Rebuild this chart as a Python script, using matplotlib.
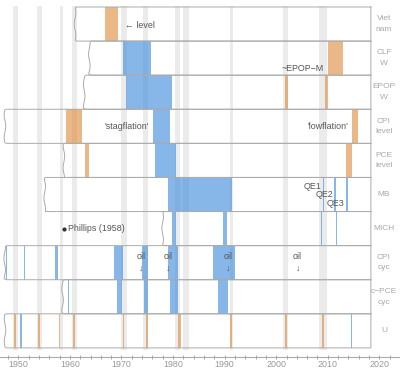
import numpy as np
import matplotlib.pyplot as plt
from matplotlib.ticker import MultipleLocator

plt.rcParams['font.family'] = ['Liberation Sans', 'DejaVu Sans']

# Row labels and where each series starts
rows = ['Viet\nnam', 'CLF\nW', 'EPOP\nW', 'CPI\nlevel', 'PCE\nlevel',
        'MB', 'MICH', 'CPI\ncyc', 'c\u2212PCE\ncyc', 'U']
rowStart = [1961.0, 1963.9, 1962.9, 1947.4, 1958.7, 1955.0, 1978.0, 1947.5, 1958.7, 1947.4]
rowEnd = 2018.35

# Recession bands
recessions = [(1949.0, 1950.0), (1953.6, 1954.5), (1958.0, 1958.7), (1960.5, 1961.3),
              (1970.0, 1971.0), (1974.1, 1975.2), (1980.4, 1981.3), (1982.0, 1983.1),
              (1991.0, 1991.7), (2001.35, 2002.3), (2008.3, 2009.8)]

# Orange / blue episodes per row (start year, end year)
orangeSpans = [
    [(1966.9, 1969.3)],
    [(2010.0, 2013.0)],
    [(2001.7, 2002.3), (2009.4, 2010.0)],
    [(1959.2, 1962.3), (2014.6, 2015.8)],
    [(1962.9, 1963.7), (2013.45, 2014.7)],
    [],
    [],
    [],
    [],
    [(1949.25, 1949.55), (1953.85, 1954.15), (1957.8, 1958.1), (1960.65, 1960.95),
     (1970.2, 1970.5), (1974.85, 1975.15), (1980.9, 1981.5), (1991.0, 1991.5),
     (2001.8, 2002.1), (2008.9, 2009.2)],
]
blueSpans = [
    [],
    [(1970.35, 1975.65)],
    [(1970.8, 1979.75)],
    [(1976.1, 1979.5)],
    [(1976.5, 1980.55)],
    [(1979.05, 1991.45), (2009.0, 2009.2), (2011.3, 2011.5), (2013.45, 2013.95)],
    [(1979.75, 1980.55), (1989.6, 1990.4), (2008.7, 2008.95), (2011.5, 2011.7)],
    [(1947.6, 1947.85), (1951.05, 1951.35), (1957.2, 1957.65), (1968.6, 1970.35),
     (1973.9, 1975.2), (1978.95, 1981.0), (1987.7, 1992.0)],
    [(1959.6, 1959.85), (1969.05, 1970.15), (1974.4, 1975.2), (1979.4, 1981.0),
     (1988.75, 1990.6)],
    [(1950.4, 1950.7), (2014.5, 2014.75)],
]

oilYears = [1973.9, 1979.0, 1990.6, 2004.15]
qeLabels = ['QE1', 'QE2', 'QE3']
qeYears = [2008.8, 2011.1, 2013.3]

ORANGE = (0.87, 0.55, 0.24)
BLUE = (0.24, 0.55, 0.86)
BORDER = '#ababab'
ANNOT = '#555555'
LABEL = '#a8a8a8'
FS = 6.4

fig = plt.figure(figsize=(4, 3.82), dpi=100)
ax = fig.add_axes([0, 0, 1, 1])
ax.set_xlim(1946.45, 2024)
ax.set_ylim(11.0, -0.205)

# recession shading
for s, e in recessions:
    ax.broken_barh([(s, e - s)], (-0.03, 10.08), facecolor='#ebebeb', edgecolor='none', zorder=0)

for i, name in enumerate(rows):
    ax.broken_barh([(s, e - s) for s, e in orangeSpans[i]], (i, 1),
                   facecolor=ORANGE, alpha=0.62, edgecolor='none', zorder=2)
    ax.broken_barh([(s, e - s) for s, e in blueSpans[i]], (i, 1),
                   facecolor=BLUE, alpha=0.62, edgecolor='none', zorder=2)
    # box with a slightly wavy left edge
    t = np.linspace(0, 1, 40)
    wx = rowStart[i] + 0.15 * np.sin(2 * np.pi * (1.5 * t + 0.17 * i)) - 0.15 * np.sin(2 * np.pi * 0.17 * i)
    wx[0] = rowStart[i] + 0.25
    wx[-1] = rowStart[i] + 0.25
    xs = np.concatenate([[rowEnd], wx, [rowEnd, rowEnd]])
    ys = np.concatenate([[i], i + t, [i + 1, i]])
    ax.plot(xs, ys, color=BORDER, lw=0.7, zorder=3)
    ax.text(2020.9, i + 0.5, name, ha='center', va='center', fontsize=6,
            color=LABEL, linespacing=1.7)

# annotations
ax.text(1970.6, 0.53, '\u2190 level', fontsize=FS, color=ANNOT, va='center', ha='left')
ax.text(2009.3, 1.79, '~EPOP\u2212M', fontsize=FS, color=ANNOT, va='center', ha='right')
ax.text(1971.1, 3.5, "'stagflation'", fontsize=FS, color=ANNOT, va='center', ha='center')
ax.text(2013.9, 3.5, "'lowflation'", fontsize=FS, color=ANNOT, va='center', ha='right')
for k, (lab, yr) in enumerate(zip(qeLabels, qeYears)):
    ax.text(yr, 5.26 + 0.25 * k, lab, fontsize=FS, color=ANNOT, va='center', ha='right')
ax.plot([1958.9], [6.51], 'o', ms=2, color='#333333', zorder=4)
ax.text(1959.7, 6.51, 'Phillips (1958)', fontsize=FS, color=ANNOT, va='center', ha='left')
for yr in oilYears:
    ax.text(yr, 7.5, 'oil\n\u2193', fontsize=FS, color=ANNOT, va='center', ha='center',
            linespacing=1.4)

# x axis
for side in ['top', 'left', 'right']:
    ax.spines[side].set_visible(False)
ax.spines['bottom'].set_position(('data', 10.255))
ax.spines['bottom'].set_color('#aaaaaa')
ax.spines['bottom'].set_linewidth(0.8)
ax.xaxis.set_major_locator(MultipleLocator(10))
ax.xaxis.set_minor_locator(MultipleLocator(2))
ax.tick_params(axis='x', which='both', direction='inout', length=3, width=0.6,
               color='#999999', labelsize=FS, labelcolor='#999999', pad=1)
ax.set_yticks([])

fig.savefig('out.png', dpi=100)
